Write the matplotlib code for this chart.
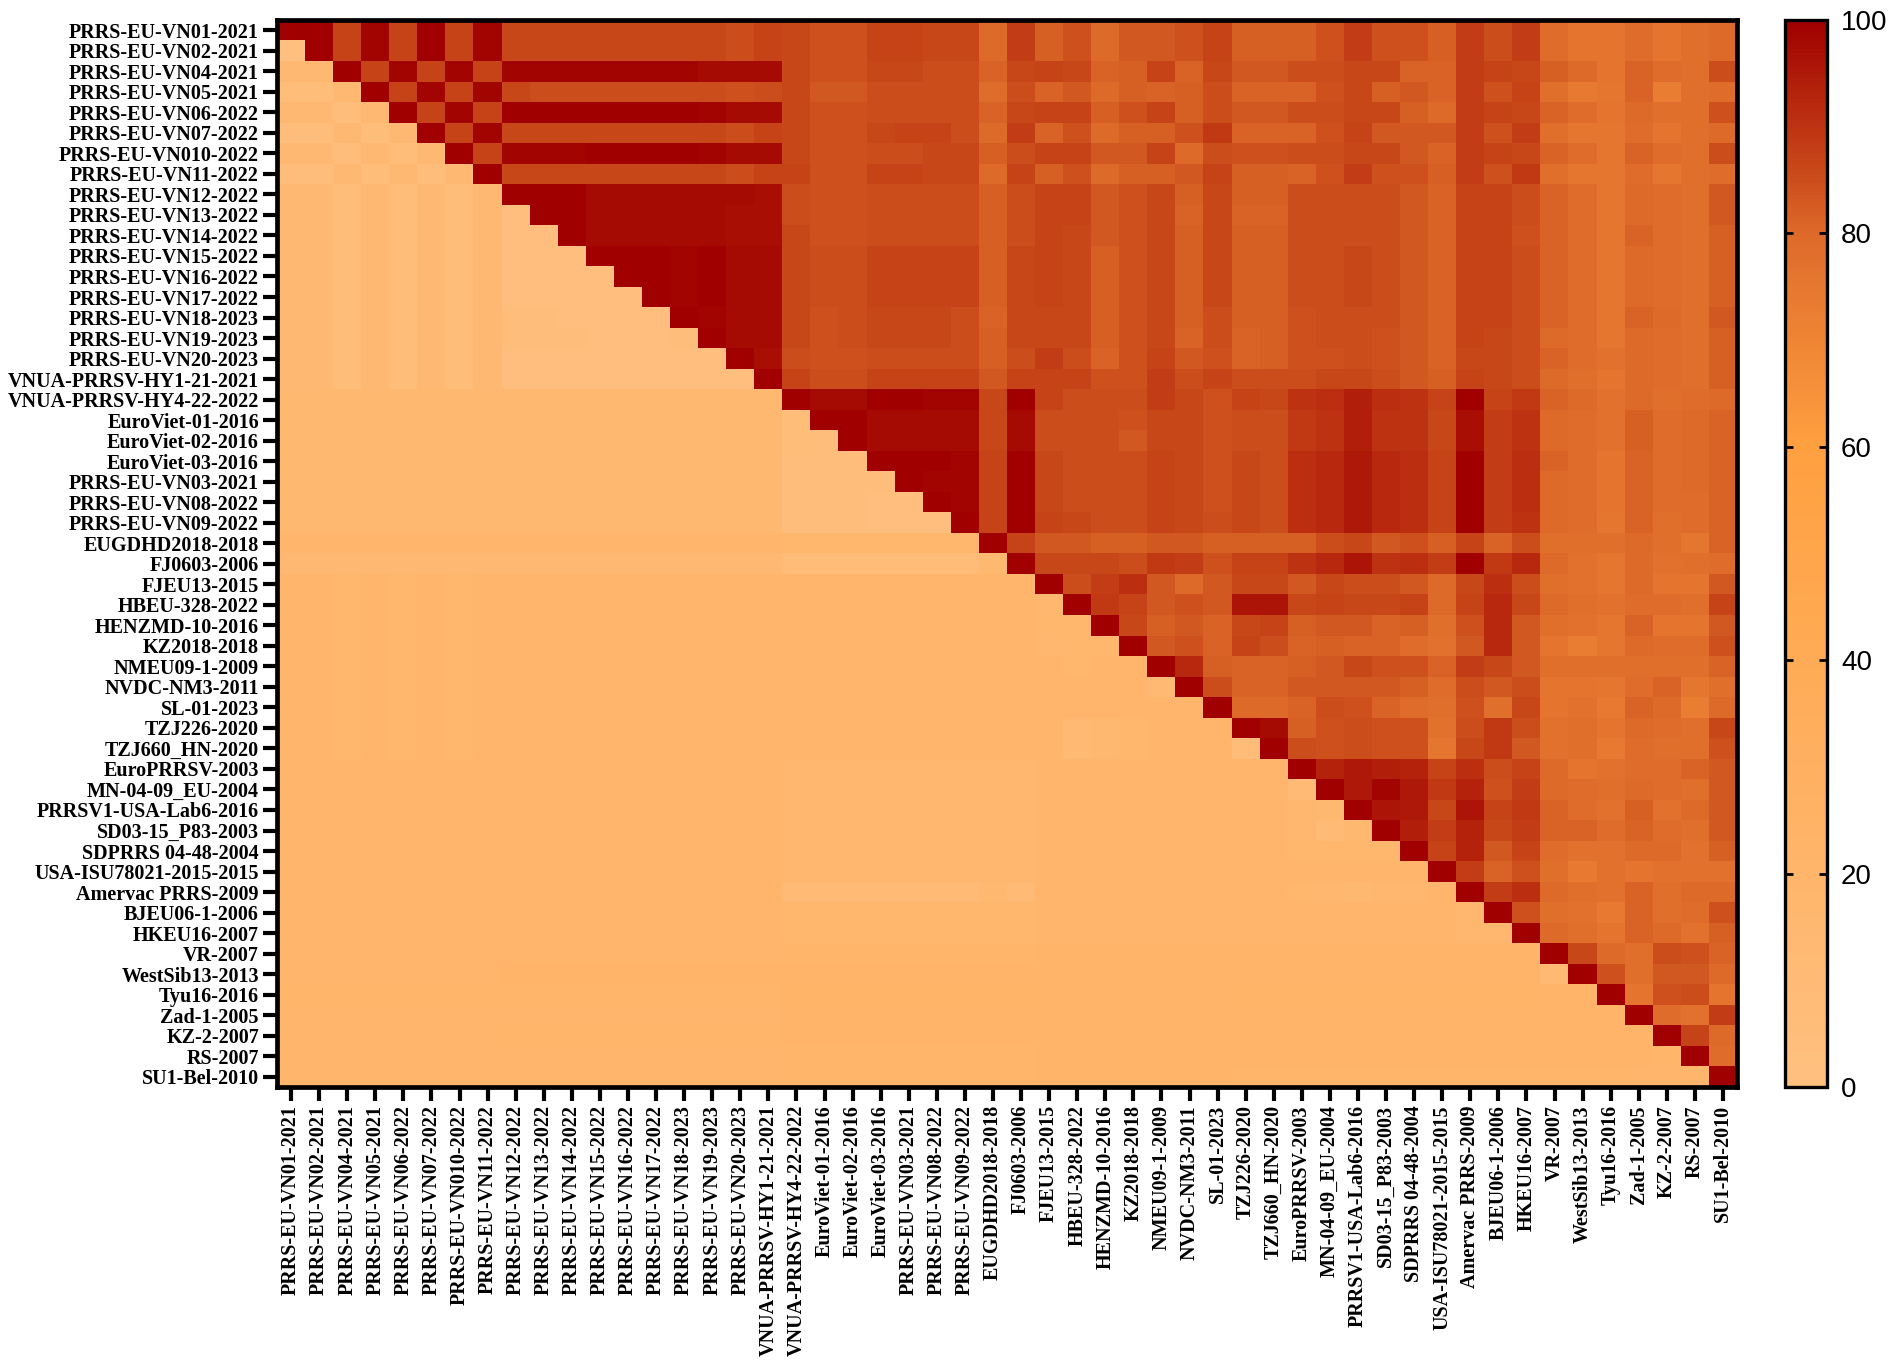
import matplotlib
matplotlib.use('Agg')
import matplotlib.pyplot as plt
import numpy as np
from matplotlib.colors import LinearSegmentedColormap

strains = [
    'PRRS-EU-VN01-2021', 'PRRS-EU-VN02-2021', 'PRRS-EU-VN04-2021', 'PRRS-EU-VN05-2021',
    'PRRS-EU-VN06-2022', 'PRRS-EU-VN07-2022', 'PRRS-EU-VN010-2022', 'PRRS-EU-VN11-2022',
    'PRRS-EU-VN12-2022', 'PRRS-EU-VN13-2022', 'PRRS-EU-VN14-2022', 'PRRS-EU-VN15-2022',
    'PRRS-EU-VN16-2022', 'PRRS-EU-VN17-2022', 'PRRS-EU-VN18-2023', 'PRRS-EU-VN19-2023',
    'PRRS-EU-VN20-2023', 'VNUA-PRRSV-HY1-21-2021', 'VNUA-PRRSV-HY4-22-2022', 'EuroViet-01-2016',
    'EuroViet-02-2016', 'EuroViet-03-2016', 'PRRS-EU-VN03-2021', 'PRRS-EU-VN08-2022',
    'PRRS-EU-VN09-2022', 'EUGDHD2018-2018', 'FJ0603-2006', 'FJEU13-2015', 'HBEU-328-2022',
    'HENZMD-10-2016', 'KZ2018-2018', 'NMEU09-1-2009', 'NVDC-NM3-2011', 'SL-01-2023',
    'TZJ226-2020', 'TZJ660_HN-2020', 'EuroPRRSV-2003', 'MN-04-09_EU-2004',
    'PRRSV1-USA-Lab6-2016', 'SD03-15_P83-2003', 'SDPRRS 04-48-2004', 'USA-ISU78021-2015-2015',
    'Amervac PRRS-2009', 'BJEU06-1-2006', 'HKEU16-2007', 'VR-2007', 'WestSib13-2013',
    'Tyu16-2016', 'Zad-1-2005', 'KZ-2-2007', 'RS-2007', 'SU1-Bel-2010',
]

# lower triangle, shared pieces
low_vn = [14, 14, 5, 14, 5, 14, 5, 14]
low_old = [19, 19, 17, 19, 17, 19, 17, 19, 18, 18, 18, 18, 18, 18, 18, 18, 18, 18]
low_end = [21] * 7

# tail of the block rows, columns 46-52
tail_a = [79, 76, 76, 79, 76, 78, 80]
tail_b = [82, 80, 76, 81, 79, 78, 85]
tail_c = [81, 79, 75, 80, 79, 78, 83]

rows = [
    # 1-8
    [100, 100, 87, 99, 87, 100, 87, 99, 86, 86, 86, 86, 86, 86, 86, 86, 85, 87, 86, 84, 84, 87, 87, 86, 86, 80, 88, 82, 84, 80, 83, 83, 84, 87, 82, 82, 82, 84, 88, 84, 84, 82, 88, 85, 88] + tail_a,
    [1, 100, 87, 99, 87, 100, 87, 99, 86, 86, 86, 86, 86, 86, 86, 86, 85, 87, 86, 84, 84, 87, 87, 86, 86, 80, 88, 82, 84, 80, 83, 83, 84, 87, 82, 82, 82, 84, 88, 84, 84, 82, 88, 85, 88] + tail_a,
    [14, 14, 100, 87, 99, 87, 99, 87, 99, 99, 99, 99, 99, 99, 99, 98, 98, 98, 86, 84, 84, 86, 86, 85, 85, 81, 86, 87, 86, 81, 82, 87, 81, 86, 83, 83, 85, 85, 86, 86, 81, 81, 88, 87, 86] + tail_b,
    [5, 5, 14, 100, 87, 99, 87, 99, 86, 85, 85, 85, 85, 85, 85, 85, 84, 85, 86, 83, 83, 85, 85, 85, 85, 79, 85, 81, 83, 80, 82, 81, 82, 85, 81, 81, 81, 84, 86, 82, 83, 81, 88, 84, 87, 78, 74, 75, 81, 73, 78, 79],
    [14, 14, 4, 14, 100, 87, 99, 87, 100, 100, 100, 100, 100, 100, 100, 99, 98, 98, 86, 84, 84, 85, 85, 85, 85, 81, 86, 87, 87, 82, 84, 87, 82, 85, 83, 83, 85, 85, 86, 86, 82, 80, 88, 87, 86, 81, 79, 76, 80, 78, 78, 84],
    [4, 4, 14, 5, 14, 100, 87, 99, 86, 86, 86, 86, 86, 86, 86, 86, 85, 87, 86, 84, 84, 86, 87, 87, 85, 80, 88, 81, 84, 80, 82, 82, 84, 89, 81, 81, 81, 84, 87, 83, 83, 83, 88, 84, 88, 78, 75, 75, 79, 76, 78, 80],
    [14, 14, 4, 14, 5, 14, 100, 87, 99, 99, 99, 100, 100, 100, 100, 99, 98, 98, 86, 84, 84, 85, 85, 86, 86, 82, 85, 87, 87, 83, 83, 87, 80, 85, 84, 84, 85, 85, 86, 86, 83, 81, 88, 87, 86, 81, 79, 75, 81, 79, 78, 85],
    [4, 4, 14, 5, 14, 4, 14, 100, 86, 86, 86, 86, 86, 86, 86, 86, 85, 87, 87, 84, 84, 87, 87, 86, 86, 80, 87, 82, 84, 80, 82, 82, 83, 87, 82, 82, 81, 84, 88, 84, 84, 82, 88, 84, 89, 78, 75, 75, 79, 75, 78, 79],
    # 9-18
    low_vn + [100, 100, 100, 98, 98, 98, 98, 98, 98, 97, 85, 84, 84, 85, 85, 85, 85, 82, 85, 87, 87, 83, 84, 86, 82, 86, 82, 82, 85, 85, 85, 85, 83, 81, 87, 87, 85] + tail_c,
    low_vn + [3, 100, 100, 98, 98, 98, 98, 98, 97, 97, 85, 84, 84, 85, 85, 85, 85, 82, 85, 87, 87, 83, 84, 86, 81, 86, 81, 81, 85, 85, 85, 85, 83, 81, 87, 87, 85] + tail_c,
    low_vn + [3, 3, 100, 98, 98, 98, 98, 98, 97, 97, 86, 84, 84, 85, 85, 85, 85, 82, 85, 87, 86, 83, 84, 86, 82, 86, 82, 82, 85, 85, 85, 85, 83, 81, 87, 87, 84, 81, 79, 75, 81, 79, 78, 82],
    low_vn + [3, 3, 3, 100, 100, 100, 99, 100, 98, 98, 86, 85, 85, 87, 87, 87, 87, 82, 86, 87, 86, 82, 84, 86, 82, 86, 82, 82, 85, 85, 86, 85, 83, 81, 87, 87, 85, 81, 79, 75, 80, 79, 78, 82],
    low_vn + [3, 3, 3, 3, 100, 100, 99, 100, 98, 98, 86, 85, 85, 87, 87, 87, 87, 82, 86, 87, 86, 82, 84, 86, 82, 86, 82, 82, 85, 85, 86, 85, 83, 81, 87, 87, 85, 81, 79, 75, 80, 79, 78, 82],
    low_vn + [3, 3, 3, 3, 3, 100, 99, 100, 98, 98, 86, 85, 85, 87, 87, 87, 87, 82, 86, 87, 86, 82, 84, 86, 82, 86, 82, 82, 85, 85, 86, 85, 83, 81, 87, 87, 85, 81, 79, 75, 80, 79, 78, 82],
    low_vn + [4, 4, 3, 3, 3, 3, 100, 99, 98, 98, 86, 84, 85, 86, 86, 86, 85, 81, 86, 86, 86, 82, 84, 86, 82, 85, 82, 82, 84, 85, 85, 85, 83, 81, 87, 87, 85, 81, 79, 75, 81, 80, 78, 83],
    low_vn + [4, 4, 4, 3, 3, 3, 4, 100, 98, 98, 86, 84, 85, 86, 86, 86, 85, 82, 86, 86, 86, 82, 84, 86, 81, 85, 81, 82, 84, 85, 85, 84, 83, 81, 87, 86, 85, 80, 79, 75, 80, 79, 78, 82],
    low_vn + [3, 3, 3, 3, 3, 3, 3, 3, 100, 97, 85, 84, 84, 85, 85, 85, 85, 82, 85, 88, 85, 81, 84, 87, 83, 84, 81, 82, 84, 84, 85, 84, 83, 81, 86, 86, 85, 81, 79, 77, 80, 79, 78, 82],
    low_vn + [3, 3, 3, 3, 3, 3, 3, 3, 3, 100, 87, 85, 85, 87, 87, 87, 87, 83, 87, 87, 87, 84, 84, 88, 85, 87, 85, 85, 85, 86, 86, 85, 83, 82, 87, 86, 85, 80, 78, 76, 80, 79, 78, 82],
    # 19-27
    [15] * 18 + [100, 98, 98, 100, 100, 99, 99, 86, 100, 87, 85, 85, 85, 88, 86, 84, 87, 86, 90, 91, 94, 91, 90, 87, 100, 87, 89, 81, 80, 77, 80, 78, 79, 80],
    [15] * 18 + [5, 100, 100, 98, 98, 98, 98, 86, 98, 85, 85, 85, 84, 86, 86, 84, 85, 85, 89, 90, 94, 90, 90, 86, 97, 88, 90, 80, 79, 77, 82, 79, 80, 81],
    [15] * 18 + [5, 4, 100, 98, 98, 98, 98, 86, 98, 85, 85, 85, 83, 86, 86, 84, 85, 85, 89, 90, 94, 90, 90, 86, 97, 88, 90, 80, 79, 77, 82, 79, 80, 81],
    [15] * 18 + [4, 4, 4, 100, 100, 100, 99, 87, 100, 86, 85, 85, 85, 87, 86, 84, 86, 85, 91, 92, 95, 92, 91, 87, 100, 88, 91, 81, 79, 76, 81, 79, 80, 81],
    [15] * 18 + [4, 4, 4, 4, 100, 99, 99, 87, 100, 86, 85, 85, 85, 87, 86, 84, 86, 85, 91, 92, 95, 92, 91, 87, 100, 88, 91, 80, 79, 76, 81, 79, 80, 81],
    [15] * 18 + [4, 4, 4, 3, 3, 100, 99, 87, 100, 86, 85, 85, 85, 87, 86, 84, 86, 85, 91, 92, 95, 92, 91, 87, 100, 88, 91, 80, 79, 76, 81, 79, 79, 81],
    [15] * 18 + [4, 4, 4, 3, 3, 3, 100, 87, 100, 87, 86, 85, 85, 87, 86, 85, 86, 85, 91, 92, 95, 92, 91, 87, 100, 88, 90, 80, 79, 75, 81, 78, 79, 81],
    [18] * 18 + [17, 17, 17, 17, 17, 17, 17, 100, 87, 83, 83, 82, 82, 83, 83, 82, 82, 82, 82, 85, 86, 83, 84, 82, 87, 81, 85, 78, 78, 78, 80, 78, 75, 81],
    [14] * 18 + [7, 6, 6, 6, 6, 6, 6, 15, 100, 86, 86, 86, 85, 89, 88, 84, 87, 87, 90, 92, 96, 90, 91, 88, 100, 89, 92, 80, 77, 75, 80, 77, 78, 79],
    # 28-36
    low_old + [18] * 9 + [100, 85, 88, 91, 83, 80, 83, 86, 86, 83, 86, 85, 85, 83, 80, 86, 91, 85, 78, 77, 75, 80, 76, 76, 83],
    low_old + [18] * 9 + [16, 100, 89, 87, 83, 84, 83, 96, 96, 86, 87, 86, 86, 87, 80, 87, 92, 86, 80, 78, 77, 79, 79, 78, 87],
    low_old + [18] * 9 + [17, 17, 100, 86, 82, 83, 81, 86, 87, 82, 83, 83, 81, 82, 78, 84, 92, 83, 78, 77, 75, 81, 76, 76, 83],
    low_old + [18] * 9 + [16, 17, 17, 100, 83, 84, 81, 87, 85, 81, 82, 81, 81, 79, 77, 83, 92, 83, 76, 73, 75, 80, 79, 79, 84],
    low_old + [18] * 9 + [18, 17, 18, 18, 100, 92, 82, 81, 81, 82, 83, 86, 84, 84, 81, 88, 86, 83, 78, 78, 78, 78, 78, 78, 81],
    low_old + [18] * 9 + [18, 18, 18, 18, 12, 100, 85, 81, 81, 83, 83, 83, 83, 82, 79, 85, 83, 85, 76, 76, 75, 79, 81, 75, 78],
    low_old + [18] * 9 + [19, 19, 19, 19, 19, 18, 100, 80, 80, 81, 85, 84, 81, 79, 78, 84, 78, 86, 76, 77, 74, 81, 80, 73, 80],
    low_old + [18] * 9 + [18, 13, 15, 17, 18, 18, 19, 100, 98, 82, 84, 85, 84, 84, 77, 85, 89, 85, 77, 78, 76, 80, 79, 78, 86],
    low_old + [18] * 9 + [18, 13, 15, 17, 18, 18, 19, 6, 100, 85, 84, 85, 84, 84, 75, 86, 89, 83, 77, 78, 74, 79, 78, 78, 84],
    # 37-45
    [19] * 18 + [16] * 9 + [18, 18, 18, 18, 18, 18, 18, 18, 18, 100, 93, 95, 94, 93, 87, 91, 85, 87, 80, 76, 77, 79, 79, 81, 83],
    [19] * 18 + [16] * 9 + [18, 18, 18, 18, 18, 18, 18, 18, 18, 9, 100, 95, 99, 95, 89, 93, 84, 88, 80, 79, 78, 80, 79, 78, 83],
    [19] * 18 + [16] * 9 + [18, 18, 18, 18, 18, 18, 18, 18, 18, 16, 15, 100, 96, 95, 86, 96, 87, 89, 81, 79, 77, 82, 77, 80, 83],
    [19] * 18 + [16] * 9 + [18, 18, 18, 18, 18, 18, 18, 18, 18, 16, 10, 15, 100, 94, 88, 93, 86, 88, 81, 81, 79, 81, 79, 78, 83],
    [19] * 18 + [16] * 9 + [19, 19, 19, 19, 19, 19, 19, 19, 19, 17, 17, 17, 17, 100, 87, 93, 83, 87, 79, 77, 77, 80, 80, 77, 82],
    [19] * 18 + [16] * 9 + [19, 19, 19, 19, 19, 19, 19, 19, 19, 18, 18, 18, 18, 18, 100, 88, 81, 84, 78, 74, 77, 76, 77, 77, 77],
    [19] * 18 + [10] * 7 + [15, 10, 18, 18, 18, 18, 18, 18, 18, 18, 18, 17, 16, 15, 16, 16, 18, 100, 88, 91, 80, 78, 77, 81, 78, 80, 80],
    [19] * 18 + [17] * 7 + [17, 17, 18, 18, 18, 19, 19, 19, 19, 19, 19, 18, 18, 18, 18, 18, 19, 16, 100, 84, 78, 77, 74, 81, 78, 79, 84],
    [19] * 18 + [17] * 7 + [17, 17, 19, 19, 19, 19, 19, 19, 19, 19, 19, 18, 18, 18, 18, 18, 19, 16, 16, 100, 80, 78, 76, 81, 80, 77, 82],
    # 46-52
    [18] * 18 + [20] * 9 + [21] * 18 + [100, 86, 80, 78, 85, 84, 81],
    [18, 18, 19, 18, 19, 18, 19, 18] + [21] * 10 + [21] * 9 + [21] * 18 + [12, 100, 84, 78, 83, 83, 80],
    [20] * 18 + [22] * 9 + low_end + [22] * 11 + [21, 21, 100, 76, 84, 85, 76],
    [19] * 18 + [21] * 9 + low_end + [21] * 11 + [21, 21, 21, 100, 79, 77, 88],
    [18, 18, 19, 18, 19, 18, 19, 18] + [20] * 10 + [21] * 9 + low_end + [21] * 11 + [21, 21, 21, 21, 100, 87, 80],
    [18] * 18 + [20] * 9 + low_end + [21] * 11 + [21, 21, 21, 21, 20, 100, 79],
    [18] * 18 + [20] * 9 + low_end + [20] * 11 + [20, 20, 20, 18, 18, 18, 100],
]

cbar_ticks = [0, 20, 40, 60, 80, 100]

W, H = 1902, 1364
plt.rcParams['font.family'] = ['Liberation Serif', 'DejaVu Serif']

cmap = LinearSegmentedColormap.from_list('identity', [
    (0.0, '#FFC080'), (0.6, '#FFA040'), (0.8, '#DE6A2A'), (0.85, '#CC4E1C'), (0.9, '#BE3412'),
    (1.0, '#A00000')])

fig = plt.figure(figsize=(W / 100, H / 100), dpi=100)
ax = fig.add_axes([277 / W, 1 - 1087 / H, (1737 - 277) / W, (1087 - 20) / H])
for r in rows:
    assert len(r) == 52
im = ax.imshow(np.array(rows, dtype=float), cmap=cmap, vmin=0, vmax=100, aspect='auto',
               interpolation='nearest')

pos = np.arange(len(strains))
ax.set_xticks(pos)
ax.set_xticklabels(strains, rotation=90, fontsize=14.5, fontweight='bold')
ax.set_yticks(pos)
ax.set_yticklabels(strains, fontsize=14.5, fontweight='bold')
ax.tick_params(axis='both', length=10, width=3, pad=3)
for s in ax.spines.values():
    s.set_linewidth(3.4)

cax = fig.add_axes([1785 / W, 1 - 1087 / H, (1827 - 1785) / W, (1087 - 20) / H])
cb = fig.colorbar(im, cax=cax, ticks=cbar_ticks)
cb.outline.set_linewidth(2.4)
cax.tick_params(axis='y', which='major', direction='in', left=True, right=True, length=6,
                width=2, pad=10, color='black')
for lab in cax.get_yticklabels():
    lab.set_fontfamily('Liberation Sans')
    lab.set_fontsize(20)

fig.savefig('out.png', dpi=100)
